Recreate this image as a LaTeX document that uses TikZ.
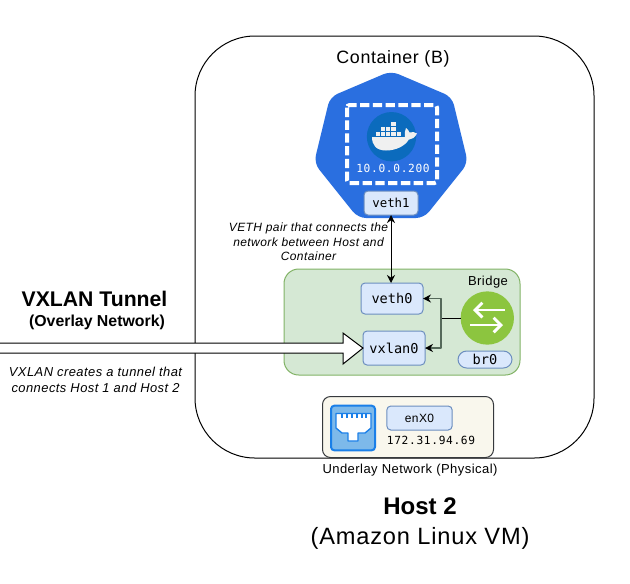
\documentclass[tikz,border=0pt]{standalone}
\usepackage{fontspec}
\setmainfont[LetterSpace=3.5]{Liberation Sans}
\newfontfamily\arialf{Liberation Sans}
\newfontfamily\monof{DejaVu Sans Mono}
\newfontfamily\monosp[LetterSpace=6]{DejaVu Sans Mono}
\usetikzlibrary{arrows.meta}
\definecolor{ifacefill}{HTML}{DAE8FC}
\definecolor{ifacestroke}{HTML}{6C8EBF}
\definecolor{kube}{HTML}{2A6FE0}
\definecolor{dockerblue}{HTML}{0B6BBD}
\definecolor{greenfill}{HTML}{D5E8D4}
\definecolor{greenline}{HTML}{82B366}
\definecolor{bridgegreen}{HTML}{8CC53F}
\definecolor{cream}{HTML}{F9F7ED}
\definecolor{darkline}{HTML}{36393D}
\definecolor{plugblue}{HTML}{1A7FE8}
\definecolor{plugfill}{HTML}{7DB9EA}
\definecolor{elbow}{HTML}{55695A}
\definecolor{whale}{HTML}{F0F0F0}
\tikzset{
  x=0.75pt,y=-0.75pt,
  every node/.style={inner sep=0pt,outer sep=0pt,text=black},
  iface/.style={draw=ifacestroke,fill=ifacefill,line width=0.75pt,rounded corners=3pt,font=\monof\fontsize{10.2}{12}\selectfont},
  conn/.style={draw=elbow,line width=1.1pt,-{Stealth[length=6pt,width=6pt,black]},line join=round},
  both/.style={line width=0.75pt,{Stealth[length=6pt,width=6pt]}-{Stealth[length=6pt,width=6pt]}},
  vethnotestyle/.style={font=\itshape\fontsize{9}{10.9}\selectfont,align=center},
  vxnotestyle/.style={font=\itshape\fontsize{9.7}{12}\selectfont,align=center},
}
\begin{document}
\begin{tikzpicture}
\useasboundingbox (0,0) rectangle (630,583);
\fill[white] (0,0) rectangle (630,583);
% host
\node[draw=black,line width=0.75pt,rounded corners=45pt,minimum width=299.25pt,minimum height=316.5pt,anchor=north west] (host) at (195,36) {};
\node[font=\fontsize{13.4}{16}\selectfont] (ctitle) at (393,59) {Container (B)};
% heptagon
\fill[kube,rounded corners=6pt] (391,71) -- (452,97) -- (468,163) -- (424,218) -- (358,218) -- (314,163) -- (330,97) -- cycle;
\draw[white,line width=3pt,dash pattern=on 7pt off 2.6pt,rounded corners=2pt] (347,105) rectangle (437,183);
\node[circle,fill=dockerblue,minimum size=37pt] (docker) at (391.5,136.7) {};
\fill[whale] (372,137) -- (405,137) .. controls (404.5,133) and (405,130) .. (406,128) .. controls (408,129.5) and (409,131) .. (409.5,132.5) .. controls (412,131.5) and (415,132) .. (417,133.5) .. controls (415,137.5) and (412,139.5) .. (408.7,139.7) .. controls (405,146) and (396,150.5) .. (386,150.5) .. controls (376,150.5) and (372,145) .. (372,137) -- cycle;
\foreach \cx/\cy in {375.5/131.7,381/131.7,386/131.7,391.3/131.7,396.5/131.7,381/126.7,386/126.7,391.3/126.7,391.3/121.7}
  \fill[whale] (\cx,\cy) rectangle ++(4.4,4.2);
\node[font=\monosp\fontsize{8.4}{11}\selectfont,text=white] (ip) at (393,168) {10.0.0.200};
\node[iface,minimum width=40.5pt,minimum height=18pt,font=\monof\fontsize{9.3}{11}\selectfont] (veth1) at (391,203) {veth1};
% green
\node[draw=greenline,fill=greenfill,line width=0.75pt,rounded corners=11pt,minimum width=177pt,minimum height=79.5pt,anchor=north west] (bridgebox) at (284,269) {};
\node[iface,minimum width=46.5pt,minimum height=23.25pt] (veth0) at (392,298.5) {veth0};
\node[iface,minimum width=46.5pt,minimum height=25.5pt] (vxlan0) at (394,348) {vxlan0};
\node[font=\fontsize{9.75}{12}\selectfont] (bridgelabel) at (488,282) {Bridge};
\node[circle,fill=bridgegreen,minimum size=40pt] (br) at (487.3,318) {};
\draw[white,line width=2.2pt,-{Straight Barb[length=5.5pt,width=11pt]}] (505,310) -- (473,310);
\draw[white,line width=2.2pt,-{Straight Barb[length=5.5pt,width=11pt]}] (470,325) -- (503,325);
\node[iface,rounded corners=6.5pt,minimum width=40.5pt,minimum height=12.75pt] (br0) at (485,359.5) {br0};
\coordinate (junction) at (441,318);
\draw[line width=0.75pt] (br.west) -- (junction);
\draw[conn] (junction) |- (veth0.east);
\draw[conn] (junction) |- (vxlan0.east);
\draw[both] (veth1.south) -- (veth0.north -| veth1.south);
\node[vethnotestyle] (vethnote) at (308.5,242) {VETH pair that connects the\\network between Host and\\Container};
% tunnel
\coordinate (t1) at (0,343);
\coordinate (t2) at (0,353);
\draw[fill=white,line width=0.75pt,line join=miter] (t1) -- (343,343) -- (343,333) -- (vxlan0.west) -- (343,364) -- (343,353) -- (t2);
\node[font=\arialf\bfseries\fontsize{15.9}{19}\selectfont] (vxt) at (94.5,299) {VXLAN Tunnel};
\node[font=\arialf\bfseries\fontsize{11.9}{14}\selectfont] (ovl) at (97,322) {(Overlay Network)};
\node[vxnotestyle] (vxnote) at (95.5,380) {VXLAN creates a tunnel that\\connects Host 1 and Host 2};
% underlay
\node[draw=darkline,fill=cream,line width=0.75pt,rounded corners=6pt,minimum width=128.25pt,minimum height=45.75pt,anchor=north west] (under) at (322.5,396.5) {};
\node[draw=plugblue,fill=plugfill,line width=1.5pt,rounded corners=2.5pt,minimum width=33pt,minimum height=33.5pt] (plug) at (353,428) {};
\draw[plugblue,fill=white,line width=1pt,line join=round] (336,413.5) -- (371,413.5) -- (371,428) -- (365,433) -- (358,433) -- (358,441) -- (348,441) -- (348,433) -- (342,433) -- (336,428) -- cycle;
\foreach \px in {342,347,352,357,362,366}
  \draw[plugblue,line width=1pt] (\px,413.5) -- (\px,418);
\node[iface,minimum width=49pt,minimum height=18pt,font=\fontsize{9}{10}\selectfont] (enx) at (419.5,418) {enX0};
\node[font=\monosp\fontsize{8.4}{10}\selectfont] (pubip) at (431,440) {172.31.94.69};
\node[font=\fontsize{9.75}{12}\selectfont] (ulabel) at (410,470) {Underlay Network (Physical)};
\node[font=\arialf\bfseries\fontsize{18}{21}\selectfont] (h2) at (420,506) {Host 2};
\node[font=\fontsize{17.7}{21}\selectfont] (amz) at (420,538) {(Amazon Linux VM)};
\end{tikzpicture}
\end{document}
